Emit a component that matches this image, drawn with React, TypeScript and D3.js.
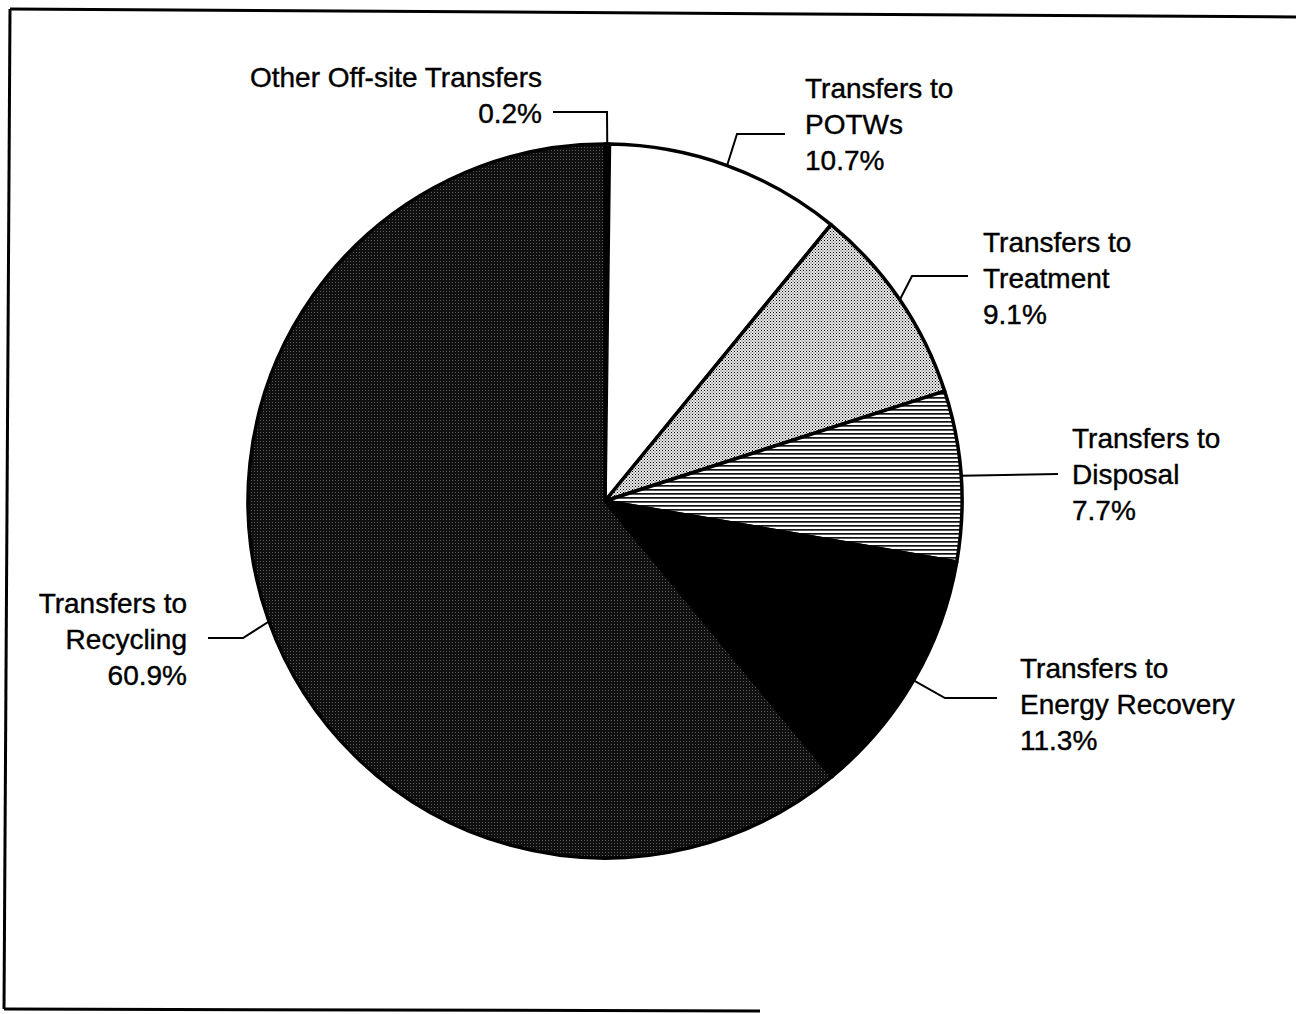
import React from "react";
import * as d3 from "d3";

const categories = [
  "Other Off-site Transfers",
  "Transfers to POTWs",
  "Transfers to Treatment",
  "Transfers to Disposal",
  "Transfers to Energy Recovery",
  "Transfers to Recycling",
];
const values = [0.2, 10.7, 9.1, 7.7, 11.3, 60.9];
const labelLines = [
  ["Other Off-site Transfers", "0.2%"],
  ["Transfers to", "POTWs", "10.7%"],
  ["Transfers to", "Treatment", "9.1%"],
  ["Transfers to", "Disposal", "7.7%"],
  ["Transfers to", "Energy Recovery", "11.3%"],
  ["Transfers to", "Recycling", "60.9%"],
];
const fills = [
  "#000",
  "#fff",
  "url(#pTreat)",
  "url(#pDisp)",
  "#000",
  "url(#pRecy)",
];

// label layout: text anchor point (first baseline), alignment, leader elbow & end
const labelLayout = [
  { x: 542, y: 87, anchor: "end", elbow: [607, 112], end: [553, 112] },
  { x: 805, y: 98, anchor: "start", elbow: [737, 134], end: [785, 134] },
  { x: 983, y: 252, anchor: "start", elbow: [912, 276], end: [968, 276] },
  { x: 1072, y: 448, anchor: "start", elbow: null, end: [1058, 474] },
  { x: 1020, y: 678, anchor: "start", elbow: [945, 698], end: [997, 698] },
  { x: 187, y: 613, anchor: "end", elbow: [243, 638], end: [208, 638] },
];

const W = 1296;
const H = 1014;
const cx = 605;
const cy = 501;
const R = 357;
const lineH = 36;

export default function App() {
  const pie = d3
    .pie<number>()
    .sort(null)
    .value((d) => d)
    .startAngle(0)
    .endAngle(2 * Math.PI);
  const arcs = pie(values);
  const arcGen = d3.arc<d3.PieArcDatum<number>>().innerRadius(0).outerRadius(R);

  const edgePoint = (a: d3.PieArcDatum<number>) => {
    const m = (a.startAngle + a.endAngle) / 2;
    return [cx + R * Math.sin(m), cy - R * Math.cos(m)];
  };

  return (
    <svg
      width={W}
      height={H}
      style={{ position: "absolute", left: 0, top: 0, background: "#fff" }}
      fontFamily="'Liberation Sans', Arial, Helvetica, sans-serif"
    >
      <defs>
        <pattern id="pRecy" width={3} height={3} patternUnits="userSpaceOnUse">
          <rect width={3} height={3} fill="#101010" />
          <rect x={0} y={0} width={1} height={1} fill="#5a5a5a" />
        </pattern>
        <pattern id="pTreat" width={3} height={3} patternUnits="userSpaceOnUse">
          <rect width={3} height={3} fill="#eaeaea" />
          <rect x={0} y={0} width={1} height={1} fill="#000" />
          <rect x={1.5} y={1.5} width={1} height={1} fill="#333" />
        </pattern>
        <pattern id="pDisp" width={4} height={4} patternUnits="userSpaceOnUse">
          <rect width={4} height={4} fill="#fff" />
          <rect x={0} y={0} width={4} height={1.7} fill="#111" />
        </pattern>
      </defs>

      {/* frame */}
      <g stroke="#000" strokeWidth={3} fill="none">
        <line x1={10} y1={9} x2={1296} y2={17} />
        <line x1={10} y1={9} x2={4} y2={1009} />
        <line x1={4} y1={1009} x2={760} y2={1011} />
      </g>

      {/* pie */}
      <g transform={`translate(${cx},${cy})`}>
        {arcs.map((a, i) => (
          <path
            key={categories[i]}
            d={arcGen(a) || ""}
            fill={fills[i]}
            stroke="#000"
            strokeWidth={3.5}
            strokeLinejoin="round"
          />
        ))}
      </g>

      {/* leaders */}
      <g stroke="#000" strokeWidth={2} fill="none">
        {arcs.map((a, i) => {
          const p = edgePoint(a);
          const L = labelLayout[i];
          const pts = L.elbow ? [p, L.elbow, L.end] : [p, L.end];
          return (
            <polyline
              key={"l" + i}
              points={pts.map((q) => q.join(",")).join(" ")}
            />
          );
        })}
      </g>

      {/* labels */}
      <g fontSize={28} fill="#000" stroke="#000" strokeWidth={0.4}>
        {labelLines.map((lines, i) => {
          const L = labelLayout[i];
          return (
            <text key={"t" + i} x={L.x} y={L.y} textAnchor={L.anchor}>
              {lines.map((s, j) => (
                <tspan key={j} x={L.x} dy={j === 0 ? 0 : lineH}>
                  {s}
                </tspan>
              ))}
            </text>
          );
        })}
      </g>
    </svg>
  );
}
